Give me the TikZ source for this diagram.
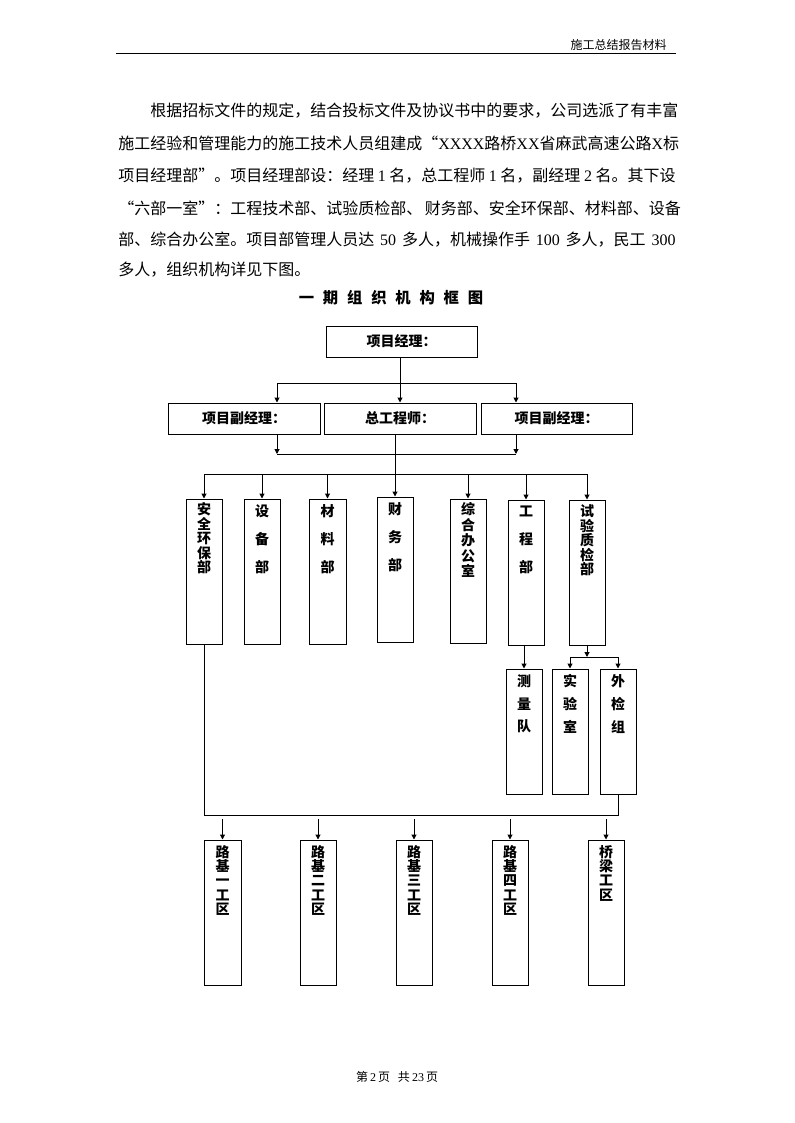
\documentclass[tikz,border=0pt]{standalone}
\usepackage{fontspec}
\setmainfont{Liberation Serif}
\newfontfamily\cjk{Noto Sans CJK SC}
\newfontfamily\tm{Liberation Serif}
\usetikzlibrary{arrows.meta}
\XeTeXlinebreaklocale "zh"
\XeTeXlinebreakskip=0pt plus 2pt minus 0.4pt
\newcommand\flexsp{\hspace{0pt plus 3pt}}
\tikzset{
  ln/.style={line width=0.75pt},
  arr/.style={ln, -{Triangle[length=3.6pt,width=3.6pt]}},
  bw/.style={minimum width=#1*0.75pt},
  bh/.style={minimum height=#1*0.75pt},
  box/.style={draw, ln, inner sep=0pt},
  hlab/.style={font=\cjk\bfseries\fontsize{10.5pt}{12pt}\selectfont},
  vtight/.style={inner sep=0pt, anchor=north, align=center, font=\cjk\bfseries\fontsize{10.5pt}{10.8pt}\selectfont},
  vwide/.style={inner sep=0pt, anchor=north, align=center, font=\cjk\bfseries\fontsize{10.5pt}{21pt}\selectfont},
  vmid/.style={inner sep=0pt, anchor=north, align=center, font=\cjk\bfseries\fontsize{10.5pt}{17pt}\selectfont},
  body/.style={font=\cjk\fontsize{12pt}{14pt}\selectfont, inner sep=0pt, anchor=west},
  small/.style={font=\cjk\fontsize{9pt}{10pt}\selectfont, inner sep=0pt},
}
\begin{document}
\begin{tikzpicture}[x=0.75pt,y=-0.75pt]
\useasboundingbox (0,0) rectangle (794,1123);
% header
\node[small, anchor=east] (hdr) at (667,45) {施工总结报告材料};
\draw[ln] (116,54) -- (676,54);
% paragraph
\node[body] (p1) at (150,111) {\makebox[396pt][s]{根据招标文件的规定，结合投标文件及协议书中的要求，公司选派了有丰富}};
\node[body] (p2) at (118,143) {\makebox[418pt][s]{施工经验和管理能力的施工技术人员组建成“{\tm XXXX}\flexsp 路桥{\tm XX}\flexsp 省麻武高速公路{\tm X}\flexsp 标}};
\node[body] (p3) at (118,175.5) {\makebox[418pt][s]{项目经理部”。项目经理部设：经理{\tm\ 1 }名，总工程师{\tm\ 1 }名，副经理{\tm\ 2 }名。其下设}};
\node[body] (p4) at (118,208) {\makebox[418pt][s]{“六部一室”：工程技术部、试验质检部、{\tm\ }财务部、安全环保部、材料部、设备}};
\node[body] (p5) at (118,240) {\makebox[418pt][s]{部、综合办公室。项目部管理人员达{\tm\ 50 }多人，机械操作手{\tm\ 100 }多人，民工{\tm\ 300}}};
\node[body] (p6) at (118,270) {多人，组织机构详见下图。};
% title
\node[inner sep=0pt, font=\cjk\bfseries\fontsize{11.5pt}{14pt}\selectfont] (title) at (391,298)
  {一\hspace{6.6pt}期\hspace{6.6pt}组\hspace{6.6pt}织\hspace{6.6pt}机\hspace{6.6pt}构\hspace{6.6pt}框\hspace{6.6pt}图};
% top boxes
\node[box,bw=151,bh=31,hlab] (pm) at (401.5,341.5) {项目经理：};
\node[box,bw=152,bh=31,hlab] (vp1) at (244,418.5) {项目副经理：};
\node[box,bw=152,bh=31,hlab] (ce) at (400,418.5) {总工程师：};
\node[box,bw=151,bh=31,hlab] (vp2) at (556.5,418.5) {项目副经理：};
% departments
\node[box,bw=36,bh=145] (d1) at (204,571.5) {};
\node[box,bw=36,bh=145] (d2) at (262,571.5) {};
\node[box,bw=37,bh=145] (d3) at (327.5,571.5) {};
\node[box,bw=36,bh=145] (d4) at (395,569.5) {};
\node[box,bw=36,bh=144] (d5) at (468,571) {};
\node[box,bw=36,bh=145] (d6) at (526,572.5) {};
\node[box,bw=36,bh=145] (d7) at (587,572.5) {};
\node[vtight] (d1t) at ([yshift=-3pt]d1.north) {安\\全\\环\\保\\部};
\node[vwide] (d2t) at ([yshift=-4.5pt]d2.north) {设\\备\\部};
\node[vwide] (d3t) at ([yshift=-4.5pt]d3.north) {材\\料\\部};
\node[vwide] (d4t) at ([yshift=-4.5pt]d4.north) {财\\务\\部};
\node[vtight, font=\cjk\bfseries\fontsize{10.5pt}{11.6pt}\selectfont] (d5t) at ([yshift=-3pt]d5.north) {综\\合\\办\\公\\室};
\node[vwide] (d6t) at ([yshift=-4.5pt]d6.north) {工\\程\\部};
\node[vtight] (d7t) at ([yshift=-4pt]d7.north) {试\\验\\质\\检\\部};
% sub boxes
\node[box,bw=36,bh=125] (s1) at (524,731.5) {};
\node[box,bw=36,bh=125] (s2) at (570,731.5) {};
\node[box,bw=36,bh=125] (s3) at (618,731.5) {};
\node[vmid] (s1t) at ([yshift=-4.5pt]s1.north) {测\\量\\队};
\node[vmid] (s2t) at ([yshift=-4.5pt]s2.north) {实\\验\\室};
\node[vmid] (s3t) at ([yshift=-4.5pt]s3.north) {外\\检\\组};
% bottom boxes
\node[box,bw=37,bh=145] (b1) at (222.5,912.5) {};
\node[box,bw=36,bh=145] (b2) at (318,912.5) {};
\node[box,bw=36,bh=145] (b3) at (414,912.5) {};
\node[box,bw=36,bh=145] (b4) at (510,912.5) {};
\node[box,bw=36,bh=145] (b5) at (606,912.5) {};
\node[vtight] (b1t) at ([yshift=-4pt]b1.north) {路\\基\\一\\工\\区};
\node[vtight] (b2t) at ([yshift=-4pt]b2.north) {路\\基\\二\\工\\区};
\node[vtight] (b3t) at ([yshift=-4pt]b3.north) {路\\基\\三\\工\\区};
\node[vtight] (b4t) at ([yshift=-4pt]b4.north) {路\\基\\四\\工\\区};
\node[vtight] (b5t) at ([yshift=-4pt]b5.north) {桥\\梁\\工\\区};
% connectors top
\coordinate (t1) at (277,383);
\coordinate (t2) at (516,383);
\draw[ln] (t1) -- (t2);
\draw[arr] (t1) -- (t1 |- vp1.north);
\draw[arr] (t2) -- (t2 |- vp2.north);
\draw[arr] (pm.south -| ce.north) -- (ce.north);
\coordinate (u1) at (277,454);
\coordinate (u2) at (516,454);
\draw[arr] (u1 |- vp1.south) -- (u1);
\draw[arr] (u2 |- vp2.south) -- (u2);
\draw[ln] (u1) -- (u2);
\draw[arr] (d4.north |- ce.south) -- (d4.north);
% department bus
\coordinate (vb) at (0,474);
\draw[ln] (d1.north |- vb) -- (d7.north |- vb);
\foreach \d in {d1,d2,d3,d5,d6,d7} \draw[arr] (\d.north |- vb) -- (\d.north);
% sub connectors
\draw[arr] (s1.north |- d6.south) -- (s1.north);
\coordinate (wb) at (0,657);
\draw[arr] (d7.south) -- (d7.south |- wb);
\draw[ln] (s2.north |- wb) -- (s3.north |- wb);
\draw[arr] (s2.north |- wb) -- (s2.north);
\draw[arr] (s3.north |- wb) -- (s3.north);
% bottom bus
\coordinate (xb) at (0,815);
\coordinate (xa) at (0,819);
\draw[ln] (d1.south) -- (d1.south |- xb) -- (s3.south |- xb) -- (s3.south);
\foreach \b in {b1,b2,b3,b4,b5} \draw[arr] (\b.north |- xa) -- (\b.north);
% footer
\node[small] (ftr) at (397,1077) {第{\tm\,2\,}页\hspace{6pt}共{\tm\,23\,}页};
\end{tikzpicture}
\end{document}
